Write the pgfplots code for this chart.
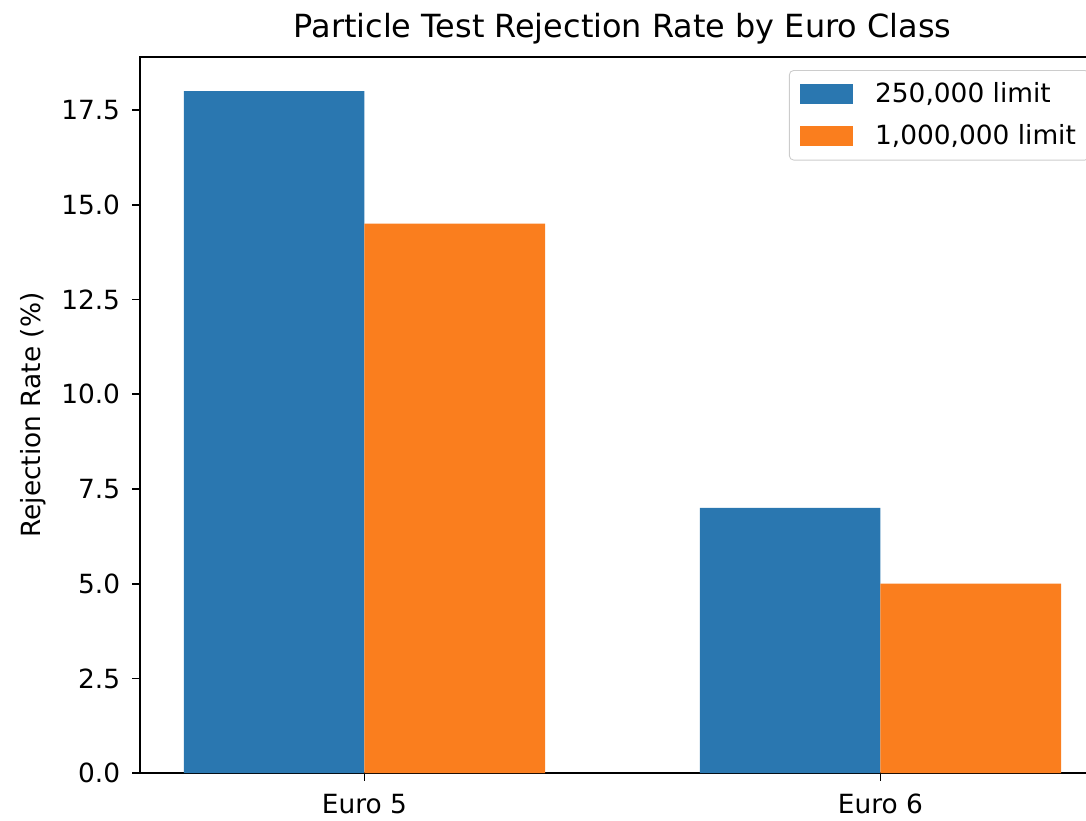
\documentclass[border=0pt]{standalone}
\usepackage{fontspec}
\setmainfont{DejaVu Sans}
\usepackage{pgfplots}
\pgfplotsset{compat=1.18}
\definecolor{tabblue}{HTML}{2A77B0}
\definecolor{taborange}{HTML}{FA7E1E}
\begin{document}
\begin{tikzpicture}
\begin{axis}[
  name=ax,
  scale only axis, width=438.6pt, height=325.5pt,
  xmin=-0.435, xmax=1.435, ymin=0, ymax=18.9,
  xtick={0,1}, xticklabels={Euro 5, Euro 6},
  ytick={0,2.5,5,7.5,10,12.5,15,17.5},
  yticklabel style={xshift=-2pt, /pgf/number format/fixed, /pgf/number format/fixed zerofill, /pgf/number format/precision=1},
  /pgf/number format/assume math mode=true,
  tick label style={font=\fontsize{12}{14}\selectfont},
  xticklabel style={yshift=-2.5pt},
  tick align=outside, tick pos=left, major tick length=3.5pt,
  tick style={line width=0.8pt, color=black},
  axis line style={line width=0.8pt},
  title={Particle Test Rejection Rate by Euro Class},
  title style={font=\fontsize{14.5}{16}\selectfont, yshift=-3.5pt},
  ylabel={Rejection Rate (\%)},
  ylabel style={font=\fontsize{12}{14}\selectfont},
  legend cell align=left,
  legend style={at={(0.6725,0.9818)}, anchor=north west,
    draw=black!20, rounded corners=2pt, fill=white,
    font=\fontsize{12}{14}\selectfont, inner xsep=5pt, inner ysep=4.5pt,
    row sep=6.5pt, nodes={inner sep=1pt}},
  /tikz/every odd column/.append style={column sep=9pt},
  legend image code/.code={\fill[#1, sharp corners] (0pt,-4.5pt) rectangle (24pt,4.5pt);},
]
\addplot[ybar, fill=tabblue, draw=none, bar width=0.35, bar shift=-0.175] coordinates {(0,18) (1,7)};
\addlegendentry{250,000 limit}
\addplot[ybar, fill=taborange, draw=none, bar width=0.35, bar shift=0.175] coordinates {(0,14.5) (1,5)};
\addlegendentry{1,000,000 limit}
\end{axis}
\pgfresetboundingbox
\path[use as bounding box] ([shift={(-63.6pt,-21.4pt)}]ax.south west) rectangle ([shift={(-8.6pt,25.9pt)}]ax.north east);
\end{tikzpicture}
\end{document}
